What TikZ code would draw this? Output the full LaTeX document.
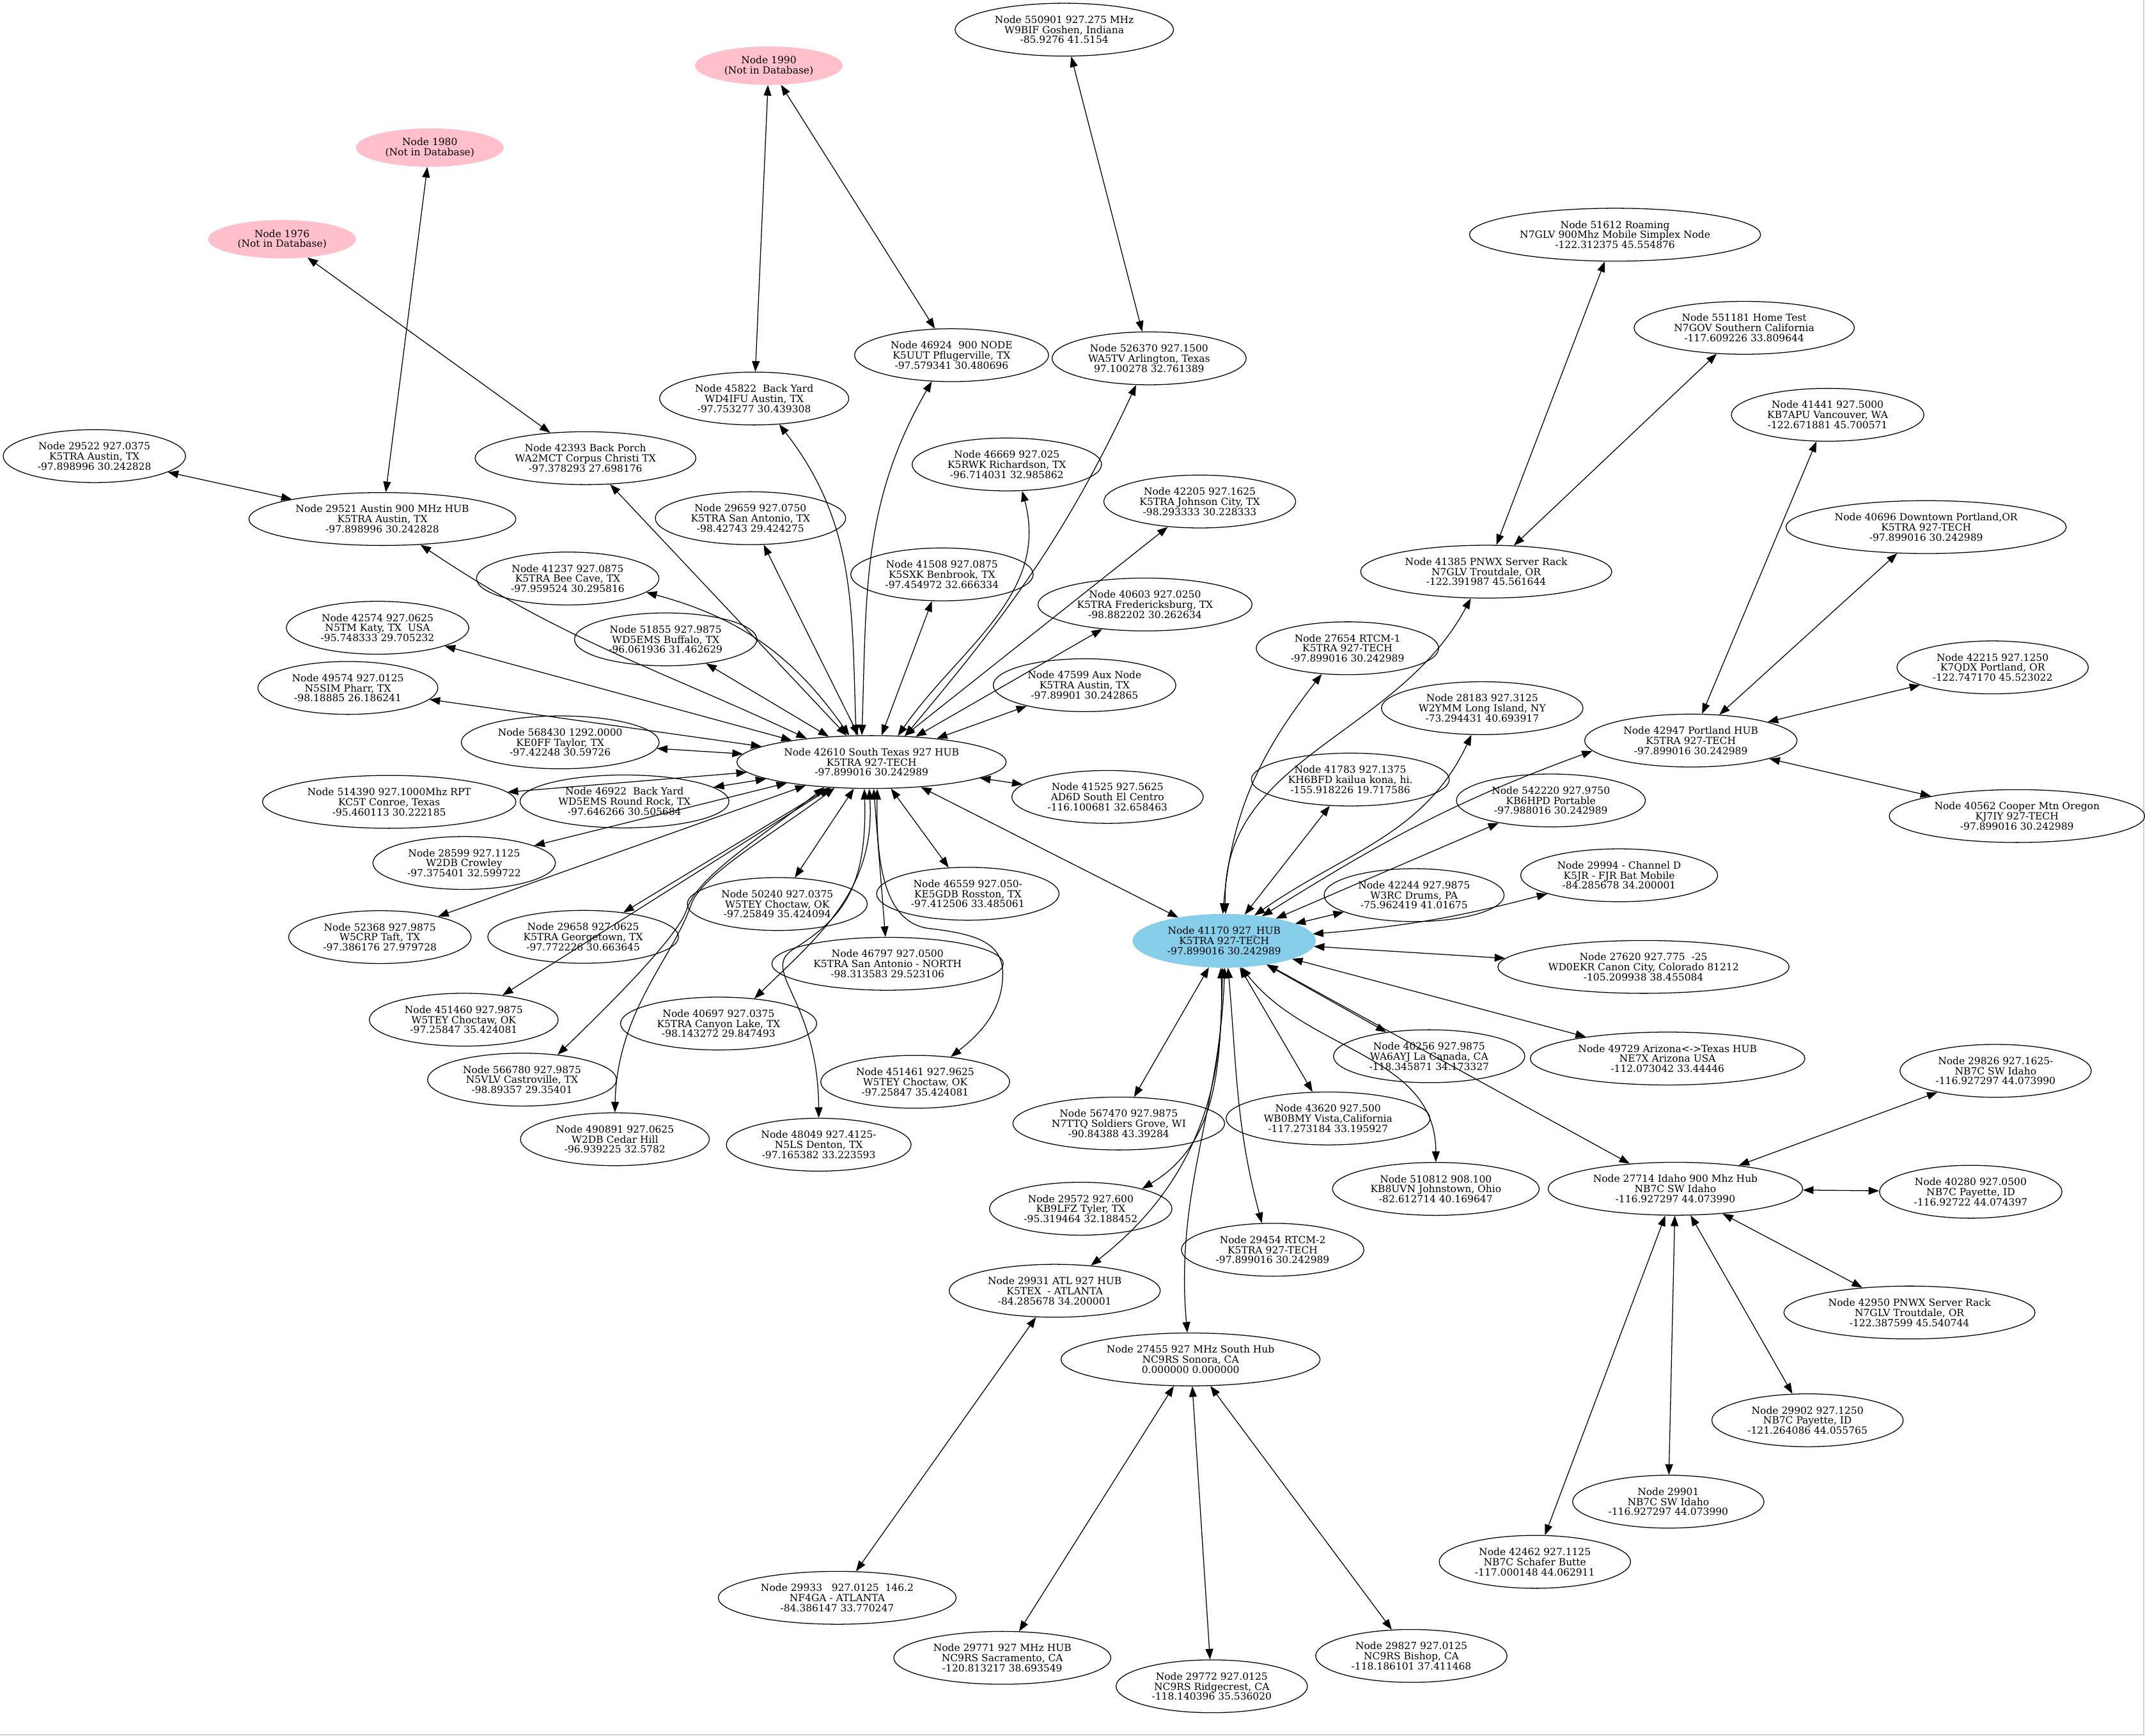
\documentclass[tikz,border=0pt]{standalone}
\usepackage{fontspec}
\setmainfont{DejaVu Serif}
\usetikzlibrary{shapes.geometric,arrows.meta}
\definecolor{pinkc}{HTML}{FFC0CB}
\definecolor{skyc}{HTML}{87CEEB}
\begin{document}
\begin{tikzpicture}[x=0.05cm,y=0.05cm,
  nd/.style={ellipse, draw, line width=0.85pt, inner xsep=8pt, inner ysep=3pt, minimum height=55pt, align=center, font=\fontsize{10.3}{10.5}\selectfont},
  pk/.style={ellipse, fill=pinkc, inner xsep=8pt, inner ysep=3pt, minimum height=40pt, align=center, font=\fontsize{10.3}{10.5}\selectfont},
  hubb/.style={nd, fill=skyc, draw=skyc},
  e/.style={<->, line width=0.85pt},
  >={Triangle[length=11pt,width=8pt]}
]
\path[use as bounding box] (0,0) rectangle (1568,-1269);
\draw[gray!35, line width=0.8pt] (1567,0) -- (1567,-1268.4) -- (0,-1268.4);

% ---------- nodes ----------
\node[nd] (n550901) at (778,-21.7) {Node 550901 927.275 MHz\\W9BIF Goshen, Indiana\\-85.9276 41.5154};
\node[pk] (n1990) at (562,-48) {Node 1990\\(Not in Database)};
\node[pk] (n1980) at (314.2,-107.9) {Node 1980\\(Not in Database)};
\node[pk] (n1976) at (206.2,-174.9) {Node 1976\\(Not in Database)};
\node[nd] (n51612) at (1180.6,-171.6) {Node 51612 Roaming\\N7GLV 900Mhz Mobile Simplex Node\\-122.312375 45.554876};
\node[nd] (n551181) at (1275,-239.7) {Node 551181 Home Test\\N7GOV Southern California\\-117.609226 33.809644};
\node[nd] (n46924) at (695.6,-259.7) {Node 46924\ \ 900 NODE\\K5UUT Pflugerville, TX\\-97.579341 30.480696};
\node[nd] (n526370) at (840,-262) {Node 526370 927.1500\\WA5TV Arlington, Texas\\97.100278 32.761389};
\node[nd] (n45822) at (551.3,-291.4) {Node 45822\ \ Back Yard\\WD4IFU Austin, TX\\-97.753277 30.439308};
\node[nd] (n41441) at (1336,-303.3) {Node 41441 927.5000\\KB7APU Vancouver, WA\\-122.671881 45.700571};
\node[nd] (n29522) at (69,-333.5) {Node 29522 927.0375\\K5TRA Austin, TX\\-97.898996 30.242828};
\node[nd] (n42393) at (428,-335) {Node 42393 Back Porch\\WA2MCT Corpus Christi TX\\-97.378293 27.698176};
\node[nd] (n46669) at (736,-339.6) {Node 46669 927.025\\K5RWK Richardson, TX\\-96.714031 32.985862};
\node[nd] (n29521) at (279.5,-379.5) {Node 29521 Austin 900 MHz HUB\\K5TRA Austin, TX\\-97.898996 30.242828};
\node[nd] (n29659) at (548.6,-378.9) {Node 29659 927.0750\\K5TRA San Antonio, TX\\-98.42743 29.424275};
\node[nd] (n42205) at (877,-366.7) {Node 42205 927.1625\\K5TRA Johnson City, TX\\-98.293333 30.228333};
\node[nd] (n40696) at (1408,-385.4) {Node 40696 Downtown Portland,OR\\K5TRA 927-TECH\\-97.899016 30.242989};
\node[nd] (n41385) at (1086.4,-418) {Node 41385 PNWX Server Rack\\N7GLV Troutdale, OR\\-122.391987 45.561644};
\node[nd] (n41237) at (415,-423) {Node 41237 927.0875\\K5TRA Bee Cave, TX\\-97.959524 30.295816};
\node[nd] (n41508) at (688.6,-420) {Node 41508 927.0875\\K5SXK Benbrook, TX\\-97.454972 32.666334};
\node[nd] (n40603) at (837,-442) {Node 40603 927.0250\\K5TRA Fredericksburg, TX\\-98.882202 30.262634};
\node[nd] (n42574) at (276,-459) {Node 42574 927.0625\\N5TM Katy, TX\ \ USA\\-95.748333 29.705232};
\node[nd] (n51855) at (486.6,-467.5) {Node 51855 927.9875\\WD5EMS Buffalo, TX\\-96.061936 31.462629};
\node[nd] (n27654) at (985,-474) {Node 27654 RTCM-1\\K5TRA 927-TECH\\-97.899016 30.242989};
\node[nd] (n42215) at (1456.6,-488) {Node 42215 927.1250\\K7QDX Portland, OR\\-122.747170 45.523022};
\node[nd] (n49574) at (254.3,-503) {Node 49574 927.0125\\N5SIM Pharr, TX\\-98.18885 26.186241};
\node[nd] (n47599) at (792.8,-501) {Node 47599 Aux Node\\K5TRA Austin, TX\\-97.89901 30.242865};
\node[nd] (n28183) at (1083.5,-517.8) {Node 28183 927.3125\\W2YMM Long Island, NY\\-73.294431 40.693917};
\node[nd] (n42947) at (1236,-541.5) {Node 42947 Portland HUB\\K5TRA 927-TECH\\-97.899016 30.242989};
\node[nd] (n568430) at (409.5,-542.8) {Node 568430 1292.0000\\KE0FF Taylor, TX\\-97.42248 30.59726};
\node[nd] (n42610) at (637.1,-557.2) {Node 42610 South Texas 927 HUB\\K5TRA 927-TECH\\-97.899016 30.242989};
\node[nd] (n41783) at (987.1,-570) {Node 41783 927.1375\\KH6BFD kailua kona, hi.\\-155.918226 19.717586};
\node[nd] (n40562) at (1474.4,-596.7) {Node 40562 Cooper Mtn Oregon\\KJ7IY 927-TECH\\-97.899016 30.242989};
\node[nd] (n514390) at (284.5,-586.3) {Node 514390 927.1000Mhz RPT\\KC5T Conroe, Texas\\-95.460113 30.222185};
\node[nd] (n46922) at (456.5,-586) {Node 46922\ \ Back Yard\\WD5EMS Round Rock, TX\\-97.646266 30.505684};
\node[nd] (n41525) at (809.6,-582.7) {Node 41525 927.5625\\AD6D South El Centro\\-116.100681 32.658463};
\node[nd] (n542220) at (1133.7,-585.3) {Node 542220 927.9750\\KB6HPD Portable\\-97.988016 30.242989};
\node[nd] (n28599) at (339.3,-631) {Node 28599 927.1125\\W2DB Crowley\\-97.375401 32.599722};
\node[nd] (n29994) at (1183.6,-640) {Node 29994 - Channel D\\K5JR - FJR Bat Mobile\\-84.285678 34.200001};
\node[nd] (n46559) at (707.5,-653.5) {Node 46559 927.050-\\KE5GDB Rosston, TX\\-97.412506 33.485061};
\node[nd] (n50240) at (568.2,-661) {Node 50240 927.0375\\W5TEY Choctaw, OK\\-97.25849 35.424094};
\node[nd] (n42244) at (1033.7,-654.5) {Node 42244 927.9875\\W3RC Drums, PA\\-75.962419 41.01675};
\node[nd] (n52368) at (277.7,-685.2) {Node 52368 927.9875\\W5CRP Taft, TX\\-97.386176 27.979728};
\node[nd] (n29658) at (426.3,-685) {Node 29658 927.0625\\K5TRA Georgetown, TX\\-97.772226 30.663645};
\node[hubb] (n41170) at (894.9,-687.9) {Node 41170 927\_HUB\\K5TRA 927-TECH\\-97.899016 30.242989};
\node[nd] (n46797) at (648.8,-704.7) {Node 46797 927.0500\\K5TRA San Antonio - NORTH\\-98.313583 29.523106};
\node[nd] (n27620) at (1201.4,-707) {Node 27620 927.775\ \ -25\\WD0EKR Canon City, Colorado 81212\\-105.209938 38.455084};
\node[nd] (n451460) at (339,-745.6) {Node 451460 927.9875\\W5TEY Choctaw, OK\\-97.25847 35.424081};
\node[nd] (n40697) at (525.3,-748.4) {Node 40697 927.0375\\K5TRA Canyon Lake, TX\\-98.143272 29.847493};
\node[nd] (n40256) at (1044.7,-772.3) {Node 40256 927.9875\\WA6AYJ La Canada, CA\\-118.345871 34.173327};
\node[nd] (n49729) at (1219,-774) {Node 49729 Arizona<->Texas HUB\\NE7X Arizona USA\\-112.073042 33.44446};
\node[nd] (n451461) at (669,-791) {Node 451461 927.9625\\W5TEY Choctaw, OK\\-97.25847 35.424081};
\node[nd] (n566780) at (381.6,-789.4) {Node 566780 927.9875\\N5VLV Castroville, TX\\-98.89357 29.35401};
\node[nd] (n29826) at (1458.8,-783) {Node 29826 927.1625-\\NB7C SW Idaho\\-116.927297 44.073990};
\node[nd] (n567470) at (817.8,-821.5) {Node 567470 927.9875\\N7TTQ Soldiers Grove, WI\\-90.84388 43.39284};
\node[nd] (n43620) at (970.8,-817.8) {Node 43620 927.500\\WB0BMY Vista,California\\-117.273184 33.195927};
\node[nd] (n490891) at (449.5,-833) {Node 490891 927.0625\\W2DB Cedar Hill\\-96.939225 32.5782};
\node[nd] (n48049) at (598.5,-837) {Node 48049 927.4125-\\N5LS Denton, TX\\-97.165382 33.223593};
\node[nd] (n510812) at (1049.6,-869.3) {Node 510812 908.100\\KB8UVN Johnstown, Ohio\\-82.612714 40.169647};
\node[nd] (n27714) at (1224.7,-869.2) {Node 27714 Idaho 900 Mhz Hub\\NB7C SW Idaho\\-116.927297 44.073990};
\node[nd] (n40280) at (1440.6,-871.4) {Node 40280 927.0500\\NB7C Payette, ID\\-116.92722 44.074397};
\node[nd] (n29572) at (790,-883.8) {Node 29572 927.600\\KB9LFZ Tyler, TX\\-95.319464 32.188452};
\node[nd] (n29454) at (930.3,-913.8) {Node 29454 RTCM-2\\K5TRA 927-TECH\\-97.899016 30.242989};
\node[nd] (n29931) at (771,-943.8) {Node 29931 ATL 927 HUB\\K5TEX\ \ - ATLANTA\\-84.285678 34.200001};
\node[nd] (n42950) at (1395.8,-959.7) {Node 42950 PNWX Server Rack\\N7GLV Troutdale, OR\\-122.387599 45.540744};
\node[nd] (n27455) at (870.3,-994) {Node 27455 927 MHz South Hub\\NC9RS Sonora, CA\\0.000000 0.000000};
\node[nd] (n29902) at (1321.3,-1038.5) {Node 29902 927.1250\\NB7C Payette, ID\\-121.264086 44.055765};
\node[nd] (n29901) at (1219.5,-1098) {Node 29901\\NB7C SW Idaho\\-116.927297 44.073990};
\node[nd] (n42462) at (1122,-1142) {Node 42462 927.1125\\NB7C Schafer Butte\\-117.000148 44.062911};
\node[nd] (n29933) at (612,-1168.3) {Node 29933\ \ \ 927.0125\ \ 146.2\\NF4GA - ATLANTA\\-84.386147 33.770247};
\node[nd] (n29771) at (732.7,-1212.2) {Node 29771 927 MHz HUB\\NC9RS Sacramento, CA\\-120.813217 38.693549};
\node[nd] (n29827) at (1031.7,-1210.8) {Node 29827 927.0125\\NC9RS Bishop, CA\\-118.186101 37.411468};
\node[nd] (n29772) at (885.8,-1233) {Node 29772 927.0125\\NC9RS Ridgecrest, CA\\-118.140396 35.536020};

% ---------- edges: top ----------
\draw[e] (n1976) -- (n42393);
\draw[e] (n1980) -- (n29521);
\draw[e] (n1990) -- (n45822);
\draw[e] (n1990) -- (n46924);
\draw[e] (n550901) -- (n526370);
\draw[e] (n29522) -- (n29521);
\draw[e] (n51612) -- (n41385);
\draw[e] (n551181) -- (n41385);
\draw[e] (n41441) -- (n42947);
\draw[e] (n40696) -- (n42947);
\draw[e] (n42215) -- (n42947);
\draw[e] (n40562) -- (n42947);

% ---------- edges: 42610 hub ----------
\draw[e] (n29521.-34) to[out=-34,in=155] (n42610.160);
\draw[e] (n42393) -- (n42610);
\draw[e] (n29659) -- (n42610);
\draw[e] (n41508) -- (n42610);
\draw[e] (n51855) -- (n42610);
\draw[e] (n42574) -- (n42610);
\draw[e] (n49574) -- (n42610);
\draw[e] (n568430) -- (n42610);
\draw[e] (n514390) -- (n42610);
\draw[e] (n46922) -- (n42610);
\draw[e] (n41525) -- (n42610);
\draw[e] (n47599) -- (n42610);
\draw[e] (n42205) -- (n42610);
\draw[e] (n40603) -- (n42610);
\draw[e] (n46559) -- (n42610);
\draw[e] (n50240) -- (n42610);
\draw[e] (n29658) -- (n42610);
\draw[e] (n46797) -- (n42610);
\draw[e] (n28599) -- (n42610);
\draw[e] (n52368) -- (n42610);
\draw[e] (n451460) -- (n42610);
\draw[e] (n42610) -- (n41170);
\draw[e] (n45822.-46) to[out=-52,in=92] (n42610.120);
\draw[e] (n46924.-127) to[out=-120,in=88] (n42610.110);
\draw[e] (n41237.-10) to[out=-15,in=125] (n42610.130);
\draw[e] (n46669.-60) to[out=-75,in=55] (n42610.45);
\draw[e] (n526370.-116) to[out=-115,in=50] (n42610.38);
\draw[e] (n42610.-78) .. controls (640,-645) and (652,-676) .. (680,-679)
  .. controls (715,-683) and (733,-690) .. (733,-712)
  .. controls (733,-740) and (715,-757) .. (n451461.35);
\draw[e] (n42610.-105) .. controls (634,-650) and (615,-672) .. (580,-694)
  .. controls (555,-710) and (598,-730) .. (n48049.north);
\draw[e] (n42610.-95) .. controls (640,-650) and (600,-683) .. (n40697.35);
\draw[e] (n42610.-152) .. controls (560,-610) and (510,-640) .. (502,-665)
  .. controls (496,-685) and (440,-740) .. (n566780.35);
\draw[e] (n42610.-145) .. controls (565,-610) and (512,-640) .. (505,-662)
  .. controls (492,-700) and (451,-740) .. (n490891.north);

% ---------- edges: 41170 hub ----------
\draw[e] (n41783) -- (n41170);
\draw[e] (n542220) -- (n41170);
\draw[e] (n42244) -- (n41170);
\draw[e] (n41170) to[bend right=5] (n29994);
\draw[e] (n27620) -- (n41170);
\draw[e] (n40256) -- (n41170);
\draw[e] (n49729) -- (n41170);
\draw[e] (n43620) -- (n41170);
\draw[e] (n567470) -- (n41170);
\draw[e] (n41170) -- (n27714);
\draw[e] (n27654.-135) to[out=-128,in=85] (n41170.93);
\draw[e] (n41385.-120) to[out=-118,in=92] (n41170.87);
\draw[e] (n28183.-112) to[out=-115,in=35] (n41170.40);
\draw[e] (n42947.-174) to[out=-160,in=32] (n41170.33);
\draw[e] (n41170.-57) to[out=-52,in=90] (n510812.north);
\draw[e] (n41170.-93) to[out=-92,in=31] (n29572.18);
\draw[e] (n41170.-97) to[out=-88,in=38] (n29931.35);
\draw[e] (n41170.-89) to[out=-92,in=95] (n27455.97);
\draw[e] (n41170.-82) to[out=-85,in=105] (n29454.112);

% ---------- edges: lower hubs ----------
\draw[e] (n27714) -- (n29826);
\draw[e] (n27714) -- (n40280);
\draw[e] (n27714) -- (n42950);
\draw[e] (n27714) -- (n29902);
\draw[e] (n27714) -- (n29901);
\draw[e] (n27714) -- (n42462);
\draw[e] (n27455) -- (n29771);
\draw[e] (n27455) -- (n29772);
\draw[e] (n27455) -- (n29827);
\draw[e] (n29931) -- (n29933);
\end{tikzpicture}
\end{document}
